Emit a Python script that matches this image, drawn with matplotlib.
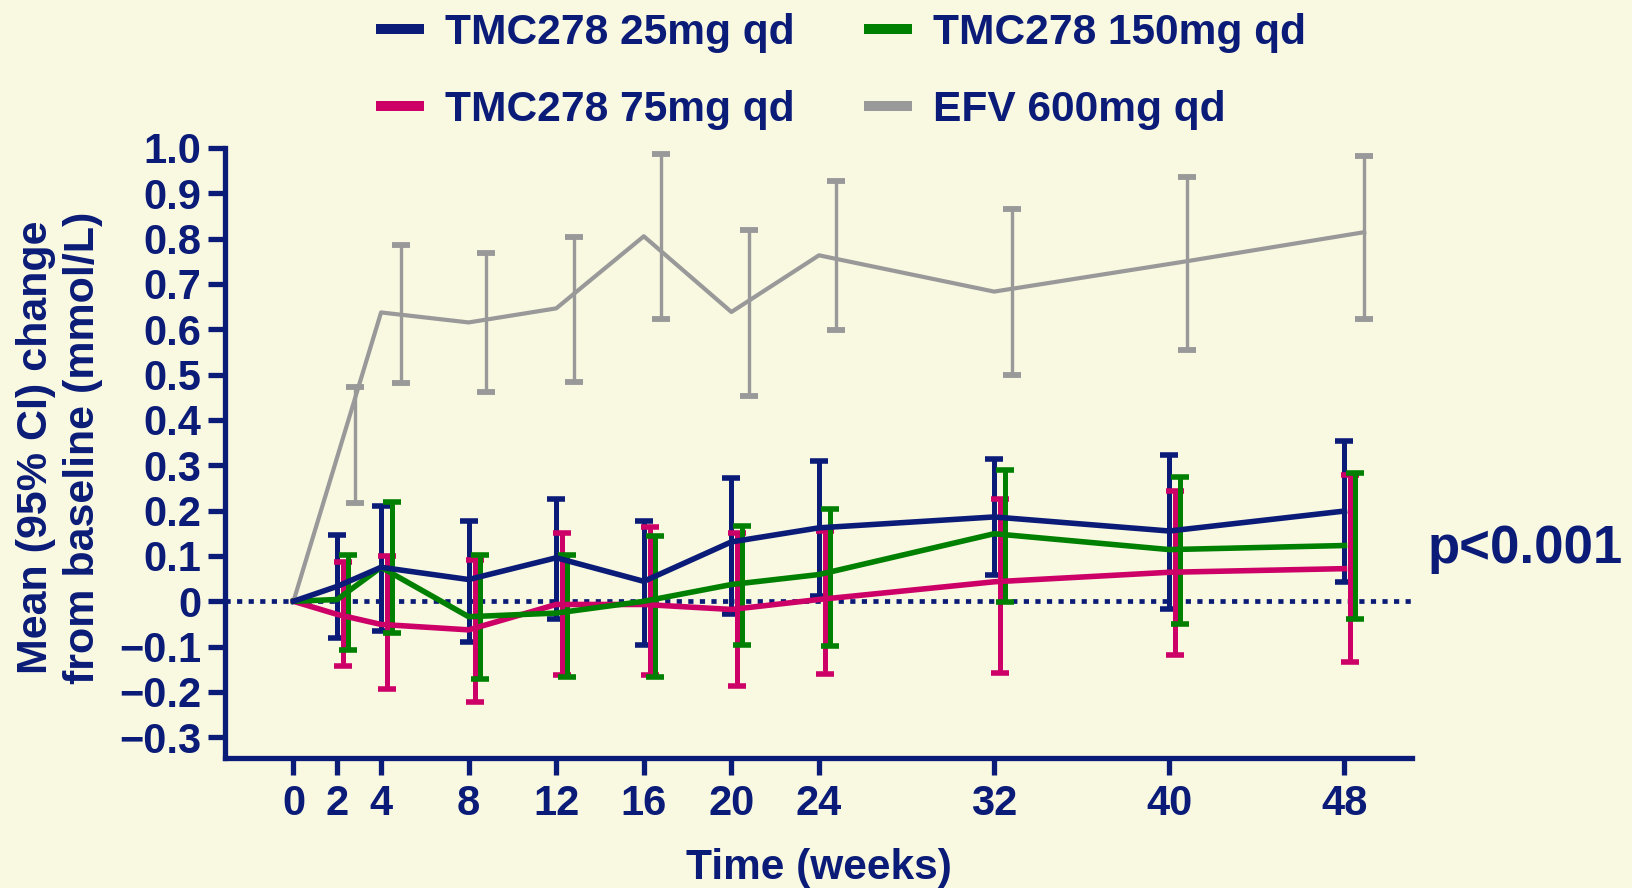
import numpy as np
import matplotlib
matplotlib.use("Agg")
import matplotlib.pyplot as plt

# data
weeks = [0, 2, 4, 8, 12, 16, 20, 24, 32, 40, 48]
tick_weeks = weeks

mean_25 = [0, 0.033, 0.075, 0.048, 0.096, 0.044, 0.131, 0.162, 0.186, 0.155, 0.199]
hi_25 = [0.147, 0.21, 0.178, 0.225, 0.177, 0.271, 0.309, 0.313, 0.322, 0.353]
lo_25 = [-0.082, -0.065, -0.09, -0.04, -0.096, -0.028, 0.011, 0.059, -0.018, 0.042]

mean_75 = [0, -0.029, -0.051, -0.063, -0.007, -0.007, -0.018, 0.004, 0.043, 0.064, 0.072]
hi_75 = [0.086, 0.099, 0.092, 0.15, 0.163, 0.151, 0.155, 0.225, 0.243, 0.278]
lo_75 = [-0.142, -0.193, -0.221, -0.162, -0.162, -0.186, -0.16, -0.158, -0.118, -0.133]

mean_150 = [0, 0.004, 0.075, -0.034, -0.026, 0.0, 0.037, 0.059, 0.149, 0.114, 0.123]
hi_150 = [0.103, 0.219, 0.103, 0.103, 0.144, 0.165, 0.203, 0.289, 0.275, 0.284]
lo_150 = [-0.108, -0.071, -0.171, -0.168, -0.166, -0.096, -0.099, -0.002, -0.051, -0.04]

efv_line_weeks = [0, 4, 8, 12, 16, 20, 24, 32, 40.8, 48.9]
efv_mean = [0, 0.637, 0.615, 0.646, 0.805, 0.638, 0.763, 0.683, 0.75, 0.814]
efv_bar_weeks = [2.8, 4.9, 8.8, 12.8, 16.8, 20.8, 24.8, 32.8, 40.8, 48.9]
efv_hi = [0.473, 0.786, 0.768, 0.803, 0.986, 0.819, 0.927, 0.865, 0.936, 0.983]
efv_lo = [0.216, 0.481, 0.461, 0.483, 0.622, 0.453, 0.598, 0.498, 0.554, 0.622]

yticks = [1.0, 0.9, 0.8, 0.7, 0.6, 0.5, 0.4, 0.3, 0.2, 0.1, 0, -0.1, -0.2, -0.3]
ytick_labels = ["1.0", "0.9", "0.8", "0.7", "0.6", "0.5", "0.4", "0.3", "0.2",
                "0.1", "0", "\u22120.1", "\u22120.2", "\u22120.3"]

NAVY = "#0b1c78"
PINK = "#cc0066"
GREEN = "#008000"
GREY = "#999999"
BG = "#f9f8e1"

plt.rcParams['font.family'] = ['Liberation Sans', 'DejaVu Sans']
plt.rcParams['font.weight'] = 'bold'

fig = plt.figure(figsize=(16.32, 8.88), dpi=100, facecolor=BG)
ax = fig.add_axes([0.1377, 0.1467, 0.7277, 0.6868], facecolor=BG)

# zero reference
ax.axhline(0, color=NAVY, lw=3.4, ls=(0, (1.1, 1.35)), zorder=1)

def bars(x, lo, hi, color, lw, cs, ct):
    lo = np.array(lo)
    hi = np.array(hi)
    ax.errorbar(x, (lo + hi) / 2, yerr=(hi - lo) / 2, fmt="none", ecolor=color,
                elinewidth=lw, capsize=cs, capthick=ct, zorder=2)

w = np.array(weeks[1:])
bars(efv_bar_weeks, efv_lo, efv_hi, GREY, 2.4, 6.2, 4.2)
bars(w, lo_25, hi_25, NAVY, 3.6, 6.2, 4.0)
bars(w + 0.27, lo_75, hi_75, PINK, 3.6, 6.2, 4.0)
bars(w + 0.5, lo_150, hi_150, GREEN, 3.6, 6.2, 4.0)

l_efv, = ax.plot(efv_line_weeks, efv_mean, color=GREY, lw=3.0, zorder=3,
                 label="EFV 600mg qd")
l_75, = ax.plot(weeks, mean_75, color=PINK, lw=4.0, zorder=3, label="TMC278 75mg qd")
l_150, = ax.plot(weeks, mean_150, color=GREEN, lw=4.0, zorder=3, label="TMC278 150mg qd")
l_25, = ax.plot(weeks, mean_25, color=NAVY, lw=4.0, zorder=3, label="TMC278 25mg qd")

ax.set_xlim(-3.14, 51.1)
ax.set_ylim(-0.345, 1.0)
ax.set_xticks(tick_weeks)
ax.set_xticklabels([str(t) for t in tick_weeks])
ax.set_yticks(yticks)
ax.set_yticklabels(ytick_labels)

for s in ["top", "right"]:
    ax.spines[s].set_visible(False)
for s in ["left", "bottom"]:
    ax.spines[s].set_color(NAVY)
    ax.spines[s].set_linewidth(3.8)
ax.tick_params(axis="both", colors=NAVY, width=3.8, length=12, labelsize=30)
ax.tick_params(axis="y", pad=5)
ax.tick_params(axis="x", pad=7)
for t in ax.get_xticklabels() + ax.get_yticklabels():
    t.set_fontweight("bold")

ax.set_xlabel("Time (weeks)", fontsize=30.5, fontweight="bold", color=NAVY, labelpad=17)
ax.set_ylabel("Mean (95% CI) change\nfrom baseline (mmol/L)", fontsize=31,
              fontweight="bold", color=NAVY, linespacing=1.22)
ax.yaxis.label.set_va("center")
ax.yaxis.set_label_coords(-0.1388, 0.5086)

fig.text(0.875, 0.3823, "p<0.001", fontsize=38, fontweight="bold", color=NAVY,
         ha="left", va="center")

leg = fig.legend([l_25, l_75, l_150, l_efv],
                 ["TMC278 25mg qd", "TMC278 75mg qd", "TMC278 150mg qd", "EFV 600mg qd"],
                 ncol=2, loc="upper left", bbox_to_anchor=(0.2275, 0.99),
                 frameon=False, labelcolor=NAVY, prop={"weight": "bold", "size": 30.6},
                 handlelength=1.14, handletextpad=0.5, columnspacing=1.62,
                 labelspacing=0.87, borderpad=0.1, borderaxespad=0)
for h in leg.legend_handles:
    h.set_linewidth(7.2)
    h.set_solid_capstyle("butt")

fig.savefig("out.png", dpi=100, facecolor=BG)
